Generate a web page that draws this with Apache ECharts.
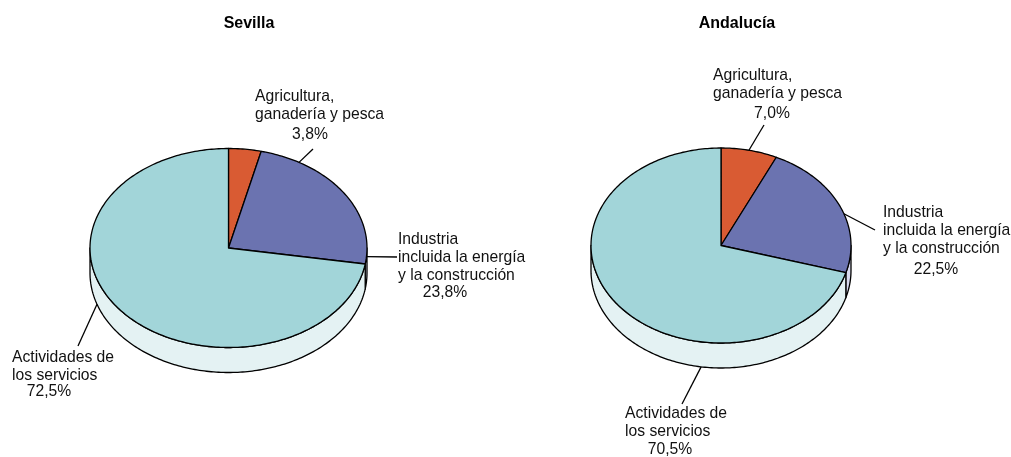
<!DOCTYPE html>
<html>
<head>
<meta charset="utf-8">
<script src="https://cdn.jsdelivr.net/npm/echarts@6/dist/echarts.min.js"></script>
<style>
  html, body { margin: 0; background: #fff; }
  #chart { width: 1011px; height: 457px; }
</style>
</head>
<body>
<div id="chart"></div>
<script>
// datos
const sectores = ['Agricultura,\nganadería y pesca', 'Industria\nincluida la energía\ny la construcción', 'Actividades de\nlos servicios'];
const territorios = ['Sevilla', 'Andalucía'];
const sevilla = [3.8, 23.8, 72.5];
const andalucia = [7.0, 22.5, 70.5];

const colores = ['#d95b33', '#6b73b0', '#a2d5d9'];
const coloresLado = ['#f2cfc2', '#d8d9ee', '#e4f2f3'];
const FONT = '"Liberation Sans", Arial, Helvetica, sans-serif';

// geometría de cada tarta (elipse + grosor) y posición de las etiquetas
const layoutSevilla = {
  cx: 228.5, cy: 248, rx: 138.5, ry: 99.5, depth: 25,
  labels: [
    { from: 30.6, bottom: false, to: [313, 149], name: [255, 88], pct: [310, 135] },
    { from: 95, bottom: false, to: [397, 257], name: [398, 231], pct: [445, 293] },
    { from: 251.7, bottom: true, to: [78, 346], name: [12, 349], pct: [49, 392] }
  ]
};
const layoutAndalucia = {
  cx: 721, cy: 245.5, rx: 130, ry: 97.5, depth: 25,
  labels: [
    { from: 12.4, bottom: false, to: [764, 125], name: [713, 67], pct: [772, 114] },
    { from: 71, bottom: false, to: [875, 230], name: [883, 204], pct: [936, 270] },
    { from: 188.8, bottom: true, to: [682, 404], name: [625, 405], pct: [670, 450] }
  ]
};

// punto de la elipse (ángulo en grados, 0 = arriba, sentido horario)
function pt(L, deg, down) {
  const a = deg * Math.PI / 180;
  return [L.cx + L.rx * Math.sin(a), L.cy - L.ry * Math.cos(a) + (down ? L.depth : 0)];
}

function arc(L, a, b, down) {
  const pts = [];
  const n = Math.max(2, Math.ceil(Math.abs(b - a)));
  for (let i = 0; i <= n; i++) pts.push(pt(L, a + (b - a) * i / n, down));
  return pts;
}

const fmt = v => v.toFixed(1).replace('.', ',') + '%';

function pieSeries(values, L) {
  const total = values.reduce((s, v) => s + v, 0);
  const starts = [];
  let acc = 0;
  values.forEach(v => { starts.push(acc / total * 360); acc += v; });

  return {
    type: 'custom',
    coordinateSystem: 'none',
    silent: true,
    data: values.map((v, i) => ({ name: sectores[i], value: v })),
    renderItem(params, api) {
      const i = params.dataIndex;
      const v = api.value(0);
      const a0 = starts[i];
      const a1 = a0 + v / total * 360;
      const lab = L.labels[i];
      const children = [];

      // cara lateral (solo la mitad delantera es visible)
      const s0 = Math.max(a0, 90), s1 = Math.min(a1, 270);
      if (s1 > s0) {
        children.push({
          type: 'polygon',
          shape: { points: arc(L, s0, s1, false).concat(arc(L, s1, s0, true)) },
          style: { fill: coloresLado[i], stroke: '#000', lineWidth: 1.3, lineJoin: 'round' }
        });
      }
      // cara superior
      children.push({
        type: 'polygon',
        shape: { points: [[L.cx, L.cy]].concat(arc(L, a0, a1, false)) },
        style: { fill: colores[i], stroke: '#000', lineWidth: 1.3, lineJoin: 'round' }
      });
      // línea guía
      children.push({
        type: 'polyline',
        z2: 10,
        shape: { points: [pt(L, lab.from, lab.bottom), lab.to] },
        style: { stroke: '#000', lineWidth: 1.3, fill: null }
      });
      // texto
      children.push({
        type: 'text',
        z2: 10,
        style: {
          text: sectores[i], x: lab.name[0], y: lab.name[1],
          fill: '#111', fontSize: 15.7, fontFamily: FONT, lineHeight: 18,
          align: 'left', verticalAlign: 'top'
        }
      });
      children.push({
        type: 'text',
        z2: 10,
        style: {
          text: fmt(v), x: lab.pct[0], y: lab.pct[1],
          fill: '#111', fontSize: 15.7, fontFamily: FONT,
          align: 'center', verticalAlign: 'middle'
        }
      });
      return { type: 'group', children };
    }
  };
}

const chart = echarts.init(document.getElementById('chart'), null, { renderer: 'canvas' });
chart.setOption({
  animation: false,
  backgroundColor: '#fff',
  title: [
    { text: territorios[0], left: 244, top: 11, textAlign: 'center',
      textStyle: { fontSize: 16, fontWeight: 'bold', fontFamily: FONT, color: '#000' } },
    { text: territorios[1], left: 732, top: 11, textAlign: 'center',
      textStyle: { fontSize: 16, fontWeight: 'bold', fontFamily: FONT, color: '#000' } }
  ],
  series: [
    pieSeries(sevilla, layoutSevilla),
    pieSeries(andalucia, layoutAndalucia)
  ]
});
</script>
</body>
</html>
